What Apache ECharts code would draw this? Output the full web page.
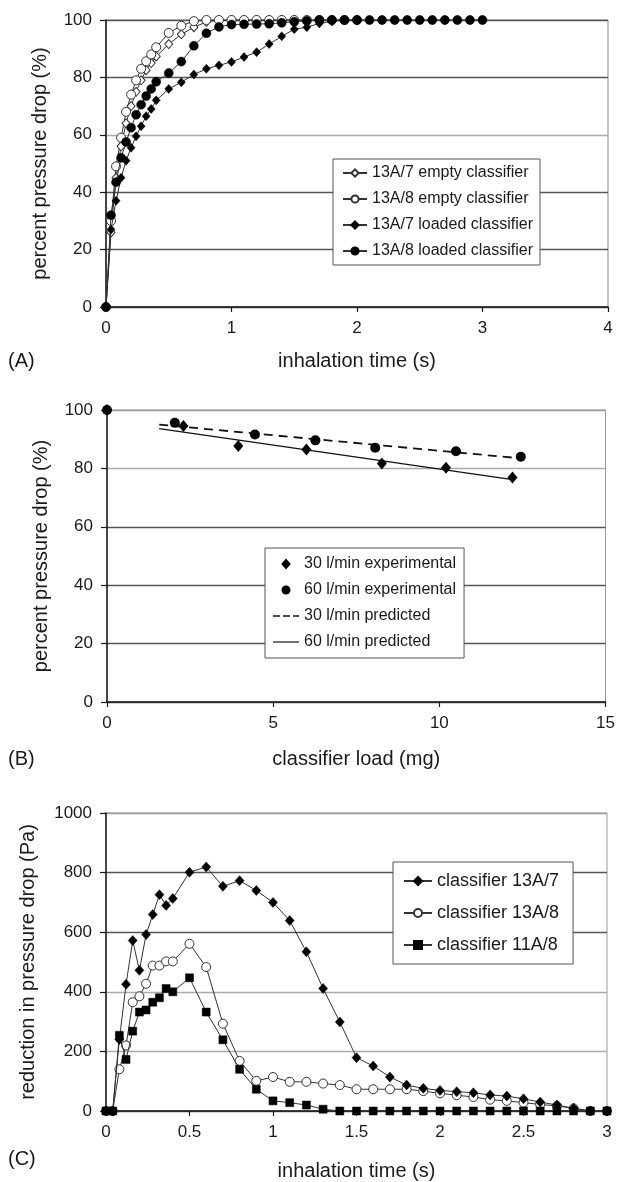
<!DOCTYPE html>
<html>
<head>
<meta charset="utf-8">
<script src="https://cdn.jsdelivr.net/npm/echarts@6/dist/echarts.min.js"></script>
<style>
  html, body { margin: 0; padding: 0; background: #fff; }
  #chart { width: 618px; height: 1182px; }
</style>
</head>
<body>
<div id="chart"></div>
<script>
// panel A: percent pressure drop vs inhalation time
var timeA = [0, 0.04, 0.08, 0.12, 0.16, 0.2, 0.24, 0.28, 0.32, 0.36, 0.4, 0.5, 0.6, 0.7, 0.8, 0.9, 1.0, 1.1, 1.2, 1.3, 1.4, 1.5, 1.6, 1.7, 1.8, 1.9, 2.0, 2.1, 2.2, 2.3, 2.4, 2.5, 2.6, 2.7, 2.8, 2.9, 3.0];
var empty13A7 = [0, 26, 45, 56, 64, 70, 75, 79, 82.5, 85, 87.3, 91.6, 95, 97.5, 99.3, 100, 100, 100, 100, 100, 100, 100, 100, 100, 100, 100, 100];
var empty13A8 = [0, 30, 49, 59, 68, 74, 79, 83, 85.6, 88, 90.5, 95.5, 98, 99.6, 100, 100, 100, 100, 100, 100, 100, 100, 100, 100, 100, 100, 100];
var loaded13A7 = [0, 27, 37, 45, 51, 55.5, 59.5, 63, 66.5, 69, 72, 76, 78.3, 81, 83, 84.2, 85.4, 87.1, 88.8, 91.6, 94.3, 96.8, 97.5, 98.8, 99.5, 100, 100, 100, 100, 100, 100, 100, 100, 100, 100, 100, 100];
var loaded13A8 = [0, 32, 43.5, 52, 57.5, 62.5, 67, 70.5, 73.5, 76, 78.5, 81.5, 85.5, 91, 95.4, 97.6, 98.4, 98.5, 98.6, 98.7, 99, 99.4, 99.7, 100, 100, 100, 100, 100, 100, 100, 100, 100, 100, 100, 100, 100, 100];

// panel B: percent pressure drop vs classifier load
var load30 = [0, 2.3, 3.95, 6.0, 8.27, 10.2, 12.2];
var drop30 = [100, 94.5, 87.7, 86.5, 81.7, 80.2, 76.9];
var load60 = [0, 2.04, 4.45, 6.27, 8.07, 10.5, 12.45];
var drop60 = [100, 95.6, 91.6, 89.6, 87.1, 85.9, 84.0];
var pred30Load = [1.57, 12.2];
var pred30Drop = [95.0, 83.7];
var pred60Load = [1.57, 12.1];
var pred60Drop = [93.6, 76.3];

// panel C: reduction in pressure drop (Pa)
var timeC = [0, 0.04, 0.08, 0.12, 0.16, 0.2, 0.24, 0.28, 0.32, 0.36, 0.4, 0.5, 0.6, 0.7, 0.8, 0.9, 1.0, 1.1, 1.2, 1.3, 1.4, 1.5, 1.6, 1.7, 1.8, 1.9, 2.0, 2.1, 2.2, 2.3, 2.4, 2.5, 2.6, 2.7, 2.8, 2.9, 3.0];
var c13A7 = [0, 0, 240, 425, 572, 472, 592, 659, 726, 690, 713, 801, 819, 754, 773, 740, 700, 639, 534, 411, 299, 179, 151, 114, 87, 76, 69, 65, 61, 54, 50, 41, 30, 20, 9, 0, 0];
var c13A8 = [0, 0, 140, 220, 365, 385, 427, 488, 488, 502, 502, 561, 483, 293, 168, 101, 114, 98, 98, 92, 87, 73, 73, 73, 73, 67, 59, 53, 47, 38, 34, 28, 22, 17, 9, 0, 0];
var c11A8 = [0, 0, 254, 173, 268, 332, 339, 365, 380, 411, 400, 447, 332, 239, 140, 73, 34, 28, 20, 6, 0, 0, 0, 0, 0, 0, 0, 0, 0, 0, 0, 0, 0, 0, 0, 0, 0];

var xTicksA = [0, 4, 1];
var xTicksB = [0, 15, 5];
var xTicksC = [0, 3, 0.5];

function zip(xs, ys) {
    var out = [];
    for (var i = 0; i < ys.length; i++) out.push([xs[i], ys[i]]);
    return out;
}

var FONT = 'Liberation Sans, Arial, sans-serif';
var INK = '#1a1a1a';
var DARK = '#555';
var LIGHT = '#aaa';

// legend icons for panel B (invisible frame keeps the mark centred and unstretched)
var FRAME = 'path://M0,0 M26,11 ';
var ICON_DIAMOND = FRAME + 'M13,0 L17.8,5.5 L13,11 L8.2,5.5 Z';
var ICON_DOT = FRAME + 'M13,1 A4.5,4.5 0 1 1 12.99,1 Z';
var ICON_DASH = FRAME + 'M0,4.7 h7 v1.6 h-7 Z M10,4.7 h7 v1.6 h-7 Z M20,4.7 h6 v1.6 h-6 Z';
var ICON_SOLID = FRAME + 'M0,4.9 h26 v1.2 h-26 Z';

function xAx(idx, ticks, name, gap) {
    return {
        type: 'value', gridIndex: idx, min: ticks[0], max: ticks[1], interval: ticks[2],
        name: name, nameLocation: 'middle', nameGap: gap,
        nameTextStyle: { fontSize: 20, color: INK, fontFamily: FONT },
        axisLine: { show: true, onZero: false, lineStyle: { color: INK, width: 1.5 } },
        axisTick: { show: true, length: 5, lineStyle: { color: INK, width: 1.2 } },
        axisLabel: { fontSize: 17, color: INK, fontFamily: FONT, margin: 13, showMinLabel: true, showMaxLabel: true },
        splitLine: { show: false }
    };
}

function yAx(idx, max, interval, name, gap, colors) {
    return {
        type: 'value', gridIndex: idx, min: 0, max: max, interval: interval,
        name: name, nameLocation: 'middle', nameGap: gap, nameRotate: 90,
        nameTextStyle: { fontSize: 20, color: INK, fontFamily: FONT },
        axisLine: { show: true, lineStyle: { color: INK, width: 1.5 } },
        axisTick: { show: true, length: 6, lineStyle: { color: INK, width: 1.2 } },
        axisLabel: {
            fontSize: 17, color: INK, fontFamily: FONT, margin: 14, showMinLabel: true, showMaxLabel: true,
            formatter: function (v) { return String(v); }
        },
        splitLine: { show: true, lineStyle: { color: colors, width: 1.3 } }
    };
}

function lineSeries(name, idx, data, symbol, size, filled) {
    return {
        name: name, type: 'line', xAxisIndex: idx, yAxisIndex: idx,
        data: data, symbol: symbol, symbolSize: size, showAllSymbol: true,
        lineStyle: { color: '#333', width: 1 },
        itemStyle: filled ? { color: '#000', borderColor: '#000', borderWidth: 0.5 }
                          : { color: '#fff', borderColor: '#333', borderWidth: 1 },
        z: filled ? 3 : 2
    };
}

var legendText = { color: INK, fontFamily: FONT };

var option = {
    animation: false,
    backgroundColor: '#fff',
    grid: [
        { left: 106, top: 20, width: 502, height: 287, show: true, borderColor: '#888', borderWidth: 1 },
        { left: 107, top: 410, width: 502, height: 292, show: true, borderColor: '#999', borderWidth: 1 },
        { left: 106, top: 813, width: 501, height: 299, show: true, borderColor: '#999', borderWidth: 1 }
    ],
    xAxis: [
        xAx(0, xTicksA, 'inhalation time (s)', 44),
        xAx(1, xTicksB, 'classifier load (mg)', 47),
        xAx(2, xTicksC, 'inhalation time (s)', 50)
    ],
    yAxis: [
        yAx(0, 100, 20, 'percent pressure drop (%)', 56, [DARK, DARK, DARK, LIGHT, DARK, DARK]),
        yAx(1, 100, 20, 'percent pressure drop (%)', 56, [DARK, DARK, DARK, DARK, LIGHT, '#999']),
        yAx(2, 1000, 200, 'reduction in pressure drop (Pa)', 68, [DARK, LIGHT, LIGHT, DARK, DARK, '#999'])
    ],
    legend: [
        {
            left: 333, top: 159, orient: 'vertical',
            data: ['13A/7 empty classifier', '13A/8 empty classifier', '13A/7 loaded classifier', '13A/8 loaded classifier'],
            itemWidth: 24, itemHeight: 9, itemGap: 10,
            padding: [6, 7, 6, 9],
            borderColor: '#555', borderWidth: 1, backgroundColor: '#fff',
            textStyle: Object.assign({ fontSize: 16 }, legendText)
        },
        {
            left: 265, top: 548, orient: 'vertical',
            data: [
                { name: '30 l/min experimental', icon: ICON_DIAMOND },
                { name: '60 l/min experimental', icon: ICON_DOT },
                { name: '30 l/min predicted', icon: ICON_DASH },
                { name: '60 l/min predicted', icon: ICON_SOLID }
            ],
            itemWidth: 26, itemHeight: 11, itemGap: 10,
            padding: [8, 8, 8, 8],
            borderColor: '#555', borderWidth: 1, backgroundColor: '#fff',
            textStyle: Object.assign({ fontSize: 16 }, legendText)
        },
        {
            left: 393, top: 862, orient: 'vertical',
            data: ['classifier 13A/7', 'classifier 13A/8', 'classifier 11A/8'],
            itemWidth: 28, itemHeight: 10, itemGap: 14,
            padding: [10, 14, 10, 10],
            borderColor: '#555', borderWidth: 1, backgroundColor: '#fff',
            textStyle: Object.assign({ fontSize: 18 }, legendText)
        }
    ],
    graphic: [
        { type: 'text', left: 8, top: 351, style: { text: '(A)', fontSize: 20, fill: INK, fontFamily: FONT } },
        { type: 'text', left: 8, top: 749, style: { text: '(B)', fontSize: 20, fill: INK, fontFamily: FONT } },
        { type: 'text', left: 8, top: 1149, style: { text: '(C)', fontSize: 20, fill: INK, fontFamily: FONT } }
    ],
    series: [
        lineSeries('13A/7 empty classifier', 0, zip(timeA, empty13A7), 'diamond', [8, 9], false),
        lineSeries('13A/8 empty classifier', 0, zip(timeA, empty13A8), 'circle', 9, false),
        lineSeries('13A/7 loaded classifier', 0, zip(timeA, loaded13A7), 'diamond', [8, 9], true),
        lineSeries('13A/8 loaded classifier', 0, zip(timeA, loaded13A8), 'circle', 9, true),

        {
            name: '30 l/min experimental', type: 'scatter', xAxisIndex: 1, yAxisIndex: 1,
            data: zip(load30, drop30), symbol: 'diamond', symbolSize: [10, 12],
            itemStyle: { color: '#000', opacity: 1 }, z: 4
        },
        {
            name: '60 l/min experimental', type: 'scatter', xAxisIndex: 1, yAxisIndex: 1,
            data: zip(load60, drop60), symbol: 'circle', symbolSize: 10,
            itemStyle: { color: '#000', opacity: 1 }, z: 4
        },
        {
            name: '30 l/min predicted', type: 'line', xAxisIndex: 1, yAxisIndex: 1,
            data: zip(pred30Load, pred30Drop), symbol: 'none',
            lineStyle: { color: '#111', width: 1.8, type: [9, 6] },
            itemStyle: { color: '#111' }
        },
        {
            name: '60 l/min predicted', type: 'line', xAxisIndex: 1, yAxisIndex: 1,
            data: zip(pred60Load, pred60Drop), symbol: 'none',
            lineStyle: { color: '#111', width: 1.3 },
            itemStyle: { color: '#111' }
        },

        lineSeries('classifier 13A/7', 2, zip(timeC, c13A7), 'diamond', [9, 10], true),
        lineSeries('classifier 13A/8', 2, zip(timeC, c13A8), 'circle', 9, false),
        lineSeries('classifier 11A/8', 2, zip(timeC, c11A8), 'rect', 8, true)
    ]
};

var myChart = echarts.init(document.getElementById('chart'), null, { renderer: 'canvas' });
myChart.setOption(option);
</script>
</body>
</html>
